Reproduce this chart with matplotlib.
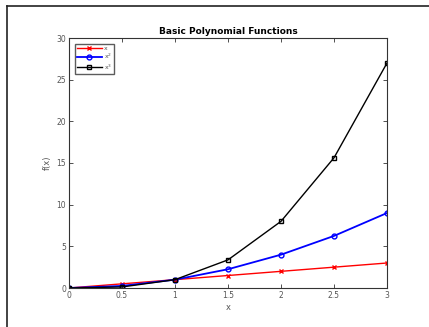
import numpy as np
import matplotlib.pyplot as plt
from matplotlib.lines import Line2D

# data
x = [0, 0.5, 1, 1.5, 2, 2.5, 3]
y_lin = [0, 0.5, 1, 1.5, 2, 2.5, 3]
y_sq = [0, 0.25, 1, 2.25, 4, 6.25, 9]
y_cub = [0, 0.125, 1, 3.375, 8, 15.625, 27]
labels = ['x', 'x$^2$', 'x$^3$']

W, H = 429, 327
fig = plt.figure(figsize=(W / 100, H / 100), dpi=100)
ax = fig.add_axes([69 / W, 1 - 288 / H, (387 - 69) / W, (288 - 38) / H])

ax.plot(x, y_lin, color='red', marker='x', ms=3.5, lw=1, mew=1, label=labels[0])
ax.plot(x, y_sq, color='blue', marker='o', ms=3.5, lw=1.3, mfc='none', mew=1, label=labels[1])
ax.plot(x, y_cub, color='black', marker='s', ms=3, lw=1, mfc='none', mew=1, label=labels[2])

ax.set_xlim(0, 3)
ax.set_ylim(0, 30)
ax.set_xticks([0, 0.5, 1, 1.5, 2, 2.5, 3])
ax.set_xticklabels(['0', '0.5', '1', '1.5', '2', '2.5', '3'])
ax.set_yticks([0, 5, 10, 15, 20, 25, 30])

gray = '#555555'
for s in ax.spines.values():
    s.set_color('#333333')
    s.set_linewidth(0.8)
ax.tick_params(direction='in', top=True, right=True, length=3, width=0.6,
               labelsize=5.5, labelcolor=gray, colors='#333333', pad=2)
for t in ax.get_xticklabels() + ax.get_yticklabels():
    t.set_color(gray)

ax.set_xlabel('x', fontsize=6, color=gray, labelpad=2)
ax.set_ylabel('f(x)', fontsize=6, color=gray, labelpad=3)
ax.set_title('Basic Polynomial Functions', fontsize=6.5, fontweight='bold', pad=3)

leg = ax.legend(loc='upper left', fontsize=4.5, frameon=True, fancybox=False,
                edgecolor='#333333', handlelength=4, borderpad=0.35,
                labelspacing=0.15, handletextpad=0.3, borderaxespad=0.9)
leg.get_frame().set_linewidth(1)
for t in leg.get_texts():
    t.set_color(gray)

# outer frame lines (top and left)
fig.add_artist(Line2D([7 / W, 1], [1 - 6 / H, 1 - 6 / H], color='#222222', lw=1.2))
fig.add_artist(Line2D([7 / W, 7 / W], [1 - 6 / H, 0], color='#222222', lw=1.2))

fig.savefig('out.png', dpi=100)
